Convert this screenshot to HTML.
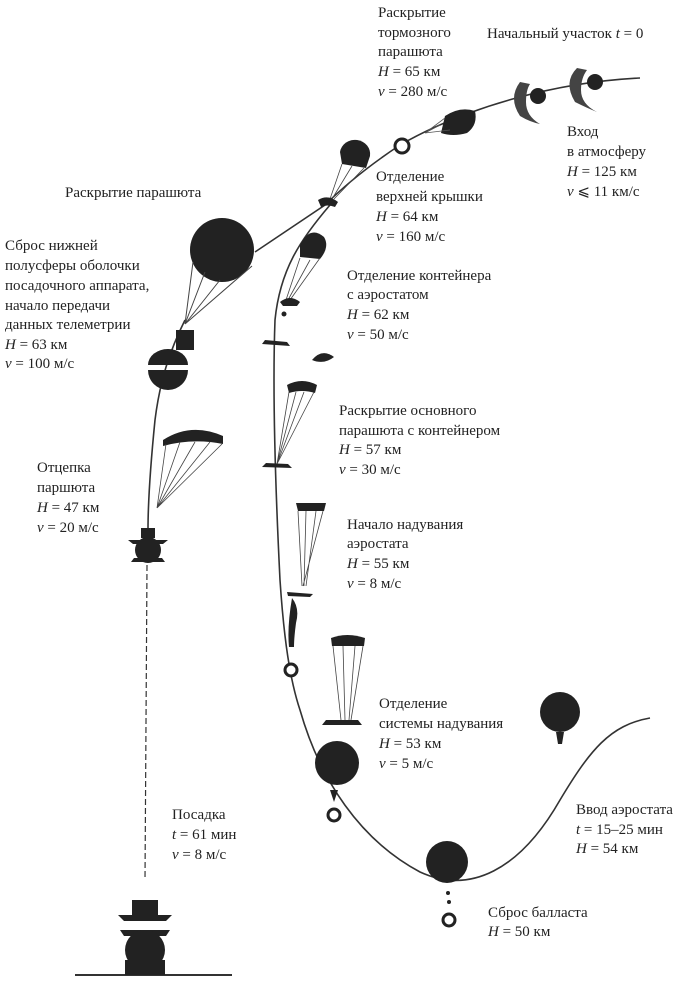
<!DOCTYPE html>
<html><head><meta charset="utf-8"><style>
html,body{margin:0;padding:0;background:#fff;}
svg{display:block}
text{font-family:"Liberation Serif",serif;font-size:15px;fill:#222;}
</style></head><body>
<svg width="700" height="992" viewBox="0 0 700 992" xmlns="http://www.w3.org/2000/svg">
<g fill="none" stroke="#333" stroke-width="1.6">
<path d="M640,78 C560,82 470,105 400,145 C370,165 345,185 325,205 L255,252"/>
<path d="M185,320 C170,350 160,380 155,420 C150,470 148,500 148,530"/>
<path d="M147,565 L145,880" stroke-dasharray="6,3" stroke-width="1.2"/>
<path d="M330,205 C300,240 280,270 275,320 C272,400 276,500 280,580 C284,640 290,680 300,710 C320,780 360,840 420,872 C470,895 520,870 560,800 C590,750 610,725 650,718"/>
<path d="M75,975 L232,975" stroke-width="2"/>
</g>
<g fill="#222">
<circle cx="595" cy="82" r="8"/><circle cx="538" cy="96" r="8"/>
<path d="M577,68 q-14,14 -2,34 q12,6 22,10 q-16,-8 -16,-22 q0,-12 6,-20z" fill="#444"/>
<path d="M520,82 q-12,16 0,34 q10,6 20,8 q-14,-8 -14,-22 q0,-12 4,-18z" fill="#444"/>
<circle cx="402" cy="146" r="7" fill="#fff" stroke="#222" stroke-width="3"/>
<path d="M445,116 q15,-10 30,-5 q3,14 -8,22 q-14,4 -26,0z"/>
<path d="M445,118 l-20,15 M450,130 l-25,3 M440,125 l-15,8" stroke="#555" fill="none" stroke-width="0.8"/>
<path d="M340,152 a15,14 0 0 1 30,4 l-4,12 l-24,-4z"/>
<path d="M342,164 l-12,35 M352,166 l-20,33 M364,168 l-30,31" stroke="#444" fill="none" stroke-width="0.8"/>
<path d="M318,200 q10,-6 20,2 l-3,5 q-8,-3 -14,0z"/>
<circle cx="222" cy="250" r="32"/>
<path d="M193,262 l-8,62 M205,272 l-20,52 M220,280 l-35,44 M238,278 l-53,46 M252,266 l-67,58" stroke="#444" fill="none" stroke-width="1"/>
<rect x="176" y="330" width="18" height="20"/>
<path d="M148,370 a20,20 0 0 0 40,0z"/>
<path d="M148,365 a20,16 0 0 1 40,0z"/>
<path d="M300,245 q10,-20 24,-8 q6,10 -4,22 l-20,-2z"/>
<path d="M300,258 l-14,42 M310,260 l-22,40 M320,258 l-30,42" stroke="#444" fill="none" stroke-width="0.8"/>
<path d="M280,302 q10,-8 20,0 l-3,4 l-14,0z"/>
<circle cx="284" cy="314" r="2.5"/>
<path d="M262,344 l28,2 l-3,-4 l-22,-2z"/>
<path d="M312,360 q10,-12 22,-3 q-10,8 -22,3z"/>
<path d="M287,385 q15,-8 30,0 l-2,8 q-13,-4 -26,0z"/>
<path d="M289,392 l-12,72 M296,392 l-19,72 M304,392 l-27,72 M314,392 l-37,72" stroke="#444" fill="none" stroke-width="0.8"/>
<path d="M262,467 l30,1 l-4,-4 l-22,-1z"/>
<path d="M163,440 q28,-18 60,-4 l0,8 q-30,-6 -60,2z"/>
<path d="M166,444 l-9,64 M180,442 l-23,66 M195,442 l-38,66 M210,442 l-53,66 M222,444 l-65,64" stroke="#444" fill="none" stroke-width="0.8"/>
<rect x="141" y="528" width="14" height="10"/><circle cx="148" cy="550" r="13"/>
<path d="M128,540 l40,0 l-5,4 l-30,0z"/>
<path d="M131,562 l34,0 l-3,-4 l-28,0z"/>
<path d="M296,503 l30,0 l-2,8 l-26,0z"/>
<path d="M298,511 l4,75 M306,511 l-2,75 M316,511 l-10,75 M323,511 l-20,75" stroke="#444" fill="none" stroke-width="0.8"/>
<path d="M287,592 l26,2 l-3,3 l-22,-1z"/>
<path d="M292,598 q8,10 4,25 q-2,15 -2,24 l-5,0 q-2,-20 3,-49z"/>
<circle cx="291" cy="670" r="6" fill="#fff" stroke="#222" stroke-width="3"/>
<path d="M331,638 q16,-6 34,0 l-1,8 l-32,0z"/>
<path d="M333,646 l8,74 M343,646 l2,74 M355,646 l-6,74 M363,646 l-12,74" stroke="#444" fill="none" stroke-width="0.8"/>
<path d="M322,725 l40,0 l-4,-5 l-32,0z"/>
<circle cx="337" cy="763" r="22"/>
<path d="M330,790 l4,12 l4,-12z"/>
<circle cx="334" cy="815" r="6" fill="#fff" stroke="#222" stroke-width="3"/>
<circle cx="447" cy="862" r="21"/>
<circle cx="448" cy="893" r="2"/><circle cx="449" cy="902" r="2"/>
<circle cx="449" cy="920" r="6" fill="#fff" stroke="#222" stroke-width="3"/>
<circle cx="560" cy="712" r="20"/>
<path d="M556,732 l8,0 l-2,12 l-4,0z"/>
<path d="M118,915 l54,0 l-6,6 l-42,0z"/>
<rect x="132" y="900" width="26" height="15"/>
<path d="M120,930 l50,0 l-4,6 l-42,0z"/>
<circle cx="145" cy="950" r="20"/>
<rect x="125" y="960" width="40" height="15"/>
</g>
<g>
<text x="378" y="17">Раскрытие</text>
<text x="378" y="37">тормозного</text>
<text x="378" y="56">парашюта</text>
<text x="378" y="76"><tspan font-style="italic">H</tspan> = 65 км</text>
<text x="378" y="96"><tspan font-style="italic">v</tspan> = 280 м/с</text>
<text x="487" y="38">Начальный участок <tspan font-style="italic">t</tspan> = 0</text>
<text x="567" y="136">Вход</text>
<text x="567" y="156">в атмосферу</text>
<text x="567" y="176"><tspan font-style="italic">H</tspan> = 125 км</text>
<text x="567" y="196"><tspan font-style="italic">v</tspan> ⩽ 11 км/с</text>
<text x="65" y="197">Раскрытие парашюта</text>
<text x="376" y="181">Отделение</text>
<text x="376" y="201">верхней крышки</text>
<text x="376" y="221"><tspan font-style="italic">H</tspan> = 64 км</text>
<text x="376" y="241"><tspan font-style="italic">v</tspan> = 160 м/с</text>
<text x="5" y="250">Сброс нижней</text>
<text x="5" y="270">полусферы оболочки</text>
<text x="5" y="290">посадочного аппарата,</text>
<text x="5" y="310">начало передачи</text>
<text x="5" y="329">данных телеметрии</text>
<text x="5" y="349"><tspan font-style="italic">H</tspan> = 63 км</text>
<text x="5" y="368"><tspan font-style="italic">v</tspan> = 100 м/с</text>
<text x="347" y="280">Отделение контейнера</text>
<text x="347" y="299">с аэростатом</text>
<text x="347" y="319"><tspan font-style="italic">H</tspan> = 62 км</text>
<text x="347" y="339"><tspan font-style="italic">v</tspan> = 50 м/с</text>
<text x="339" y="415">Раскрытие основного</text>
<text x="339" y="435">парашюта с контейнером</text>
<text x="339" y="454"><tspan font-style="italic">H</tspan> = 57 км</text>
<text x="339" y="474"><tspan font-style="italic">v</tspan> = 30 м/с</text>
<text x="37" y="472">Отцепка</text>
<text x="37" y="492">паршюта</text>
<text x="37" y="512"><tspan font-style="italic">H</tspan> = 47 км</text>
<text x="37" y="532"><tspan font-style="italic">v</tspan> = 20 м/с</text>
<text x="347" y="529">Начало надувания</text>
<text x="347" y="548">аэростата</text>
<text x="347" y="568"><tspan font-style="italic">H</tspan> = 55 км</text>
<text x="347" y="588"><tspan font-style="italic">v</tspan> = 8 м/с</text>
<text x="379" y="708">Отделение</text>
<text x="379" y="728">системы надувания</text>
<text x="379" y="748"><tspan font-style="italic">H</tspan> = 53 км</text>
<text x="379" y="768"><tspan font-style="italic">v</tspan> = 5 м/с</text>
<text x="576" y="814">Ввод аэростата</text>
<text x="576" y="834"><tspan font-style="italic">t</tspan> = 15–25 мин</text>
<text x="576" y="853"><tspan font-style="italic">H</tspan> = 54 км</text>
<text x="172" y="819">Посадка</text>
<text x="172" y="839"><tspan font-style="italic">t</tspan> = 61 мин</text>
<text x="172" y="859"><tspan font-style="italic">v</tspan> = 8 м/с</text>
<text x="488" y="917">Сброс балласта</text>
<text x="488" y="936"><tspan font-style="italic">H</tspan> = 50 км</text>
</g>
</svg>
</body></html>
